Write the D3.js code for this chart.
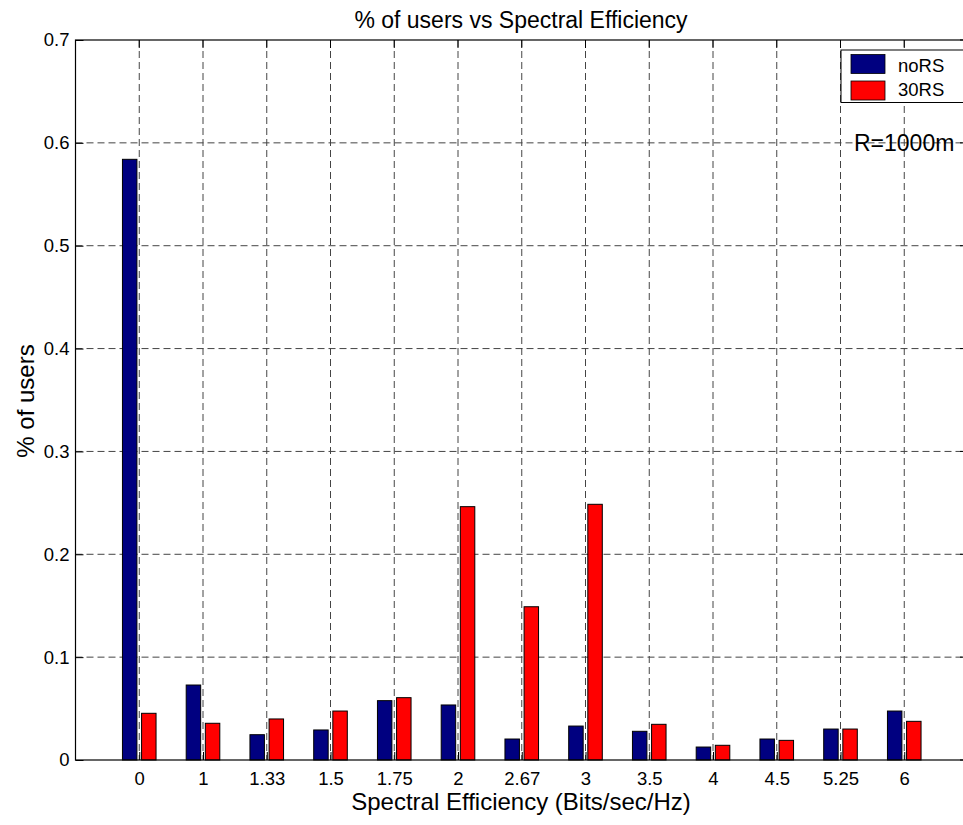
<!DOCTYPE html>
<html><head><meta charset="utf-8">
<script src="https://cdn.jsdelivr.net/npm/d3@7/dist/d3.min.js"></script>
<style>body{margin:0;background:#fff;}svg{display:block;font-family:"Liberation Sans",Arial,sans-serif;}</style>
</head><body><svg id="c" width="963" height="825"></svg>
<script>
const categories = ["0","1","1.33","1.5","1.75","2","2.67","3","3.5","4","4.5","5.25","6"];
const noRS = [0.584,0.0729,0.0246,0.0292,0.0577,0.0535,0.0204,0.033,0.0279,0.0126,0.0204,0.0301,0.0476];
const rs30 = [0.0454,0.0357,0.0399,0.0476,0.0606,0.2463,0.149,0.2486,0.0347,0.0143,0.0191,0.0301,0.0376];
const yTicks = [0,0.1,0.2,0.3,0.4,0.5,0.6,0.7];
const seriesNames = ["noRS","30RS"];
const colors = ["#000080","#ff0000"];

const FONT = "Liberation Sans, Arial, sans-serif";
const svg = d3.select("#c");
const L = 75.5, R = 968, T = 40, B = 760;
const x = d3.scaleLinear().domain([0, 14]).range([L, R]);
const y = d3.scaleLinear().domain([0, 0.7]).range([B, T]);
const barW = 0.227, off = 0.15;

// grid
const g = svg.append("g");
g.selectAll("line.vg").data(categories).enter().append("line")
  .attr("x1", (d,i)=>x(i+1)).attr("x2", (d,i)=>x(i+1)).attr("y1", T).attr("y2", B)
  .attr("stroke", "#444").attr("stroke-width", 1).attr("stroke-dasharray", "7,4");
g.selectAll("line.hg").data(yTicks.slice(1, -1)).enter().append("line")
  .attr("x1", L).attr("x2", R).attr("y1", d=>y(d)).attr("y2", d=>y(d))
  .attr("stroke", "#444").attr("stroke-width", 1).attr("stroke-dasharray", "7,4");

// bars
const series = [noRS, rs30];
series.forEach((vals, s) => {
  svg.append("g").selectAll("rect").data(vals).enter().append("rect")
    .attr("x", (d,i)=>x(i+1 + (s===0 ? -off : off) - barW/2))
    .attr("width", x(barW) - x(0))
    .attr("y", d=>y(d))
    .attr("height", d=>y(0) - y(d))
    .attr("fill", colors[s]).attr("stroke", "#000").attr("stroke-width", 1);
});

// axes box
svg.append("rect").attr("x", L).attr("y", T).attr("width", R-L).attr("height", B-T)
  .attr("fill", "none").attr("stroke", "#000").attr("stroke-width", 1.2);

// y axis
const ya = d3.axisLeft(y).tickValues(yTicks).tickFormat(d=>d===0?"0":d3.format(".1f")(d)).tickSizeInner(-8).tickSizeOuter(0).tickPadding(6);
const yg = svg.append("g").attr("transform", `translate(${L},0)`).call(ya);
yg.select(".domain").remove();
yg.selectAll("text").attr("font-size", 18.5).attr("fill", "#000").attr("font-family", FONT);
yg.selectAll("line").attr("stroke", "#000");
svg.append("g").selectAll("line").data(yTicks).enter().append("line")
  .attr("x1", R).attr("x2", R-8).attr("y1", d=>y(d)).attr("y2", d=>y(d)).attr("stroke", "#000");

// x axis
const xa = d3.axisBottom(x).tickValues(d3.range(1, 14)).tickFormat(d=>categories[d-1]).tickSizeInner(-8).tickSizeOuter(0).tickPadding(12);
const xg = svg.append("g").attr("transform", `translate(0,${B})`).call(xa);
xg.select(".domain").remove();
xg.selectAll("text").attr("font-size", 18.5).attr("fill", "#000").attr("font-family", FONT);
xg.selectAll("line").attr("stroke", "#000");
svg.append("g").selectAll("line").data(d3.range(1, 14)).enter().append("line")
  .attr("x1", d=>x(d)).attr("x2", d=>x(d)).attr("y1", T).attr("y2", T+8).attr("stroke", "#000");

// titles
svg.append("text").attr("x", 521).attr("y", 28).attr("text-anchor", "middle")
  .attr("font-size", 23).attr("font-family", FONT).text("% of users vs Spectral Efficiency");
svg.append("text").attr("x", 521).attr("y", 810).attr("text-anchor", "middle")
  .attr("font-size", 24).attr("font-family", FONT).text("Spectral Efficiency (Bits/sec/Hz)");
svg.append("text").attr("transform", "translate(34,401) rotate(-90)").attr("text-anchor", "middle")
  .attr("font-size", 24).attr("font-family", FONT).text("% of users");

// annotation
svg.append("text").attr("x", 854).attr("y", 151).attr("font-size", 23).attr("font-family", FONT).text("R=1000m");

// legend
const lg = svg.append("g");
lg.append("rect").attr("x", 841).attr("y", 50).attr("width", 125).attr("height", 52.5)
  .attr("fill", "#fff").attr("stroke", "#000").attr("stroke-width", 1);
seriesNames.forEach((n, i) => {
  lg.append("rect").attr("x", 851).attr("y", 54.5 + i*26.5).attr("width", 34).attr("height", 19)
    .attr("fill", colors[i]).attr("stroke", "#000").attr("stroke-width", 0.8);
  lg.append("text").attr("x", 898).attr("y", 72.3 + i*23.7).attr("font-size", 18.5).attr("font-family", FONT).text(n);
});
</script></body></html>
